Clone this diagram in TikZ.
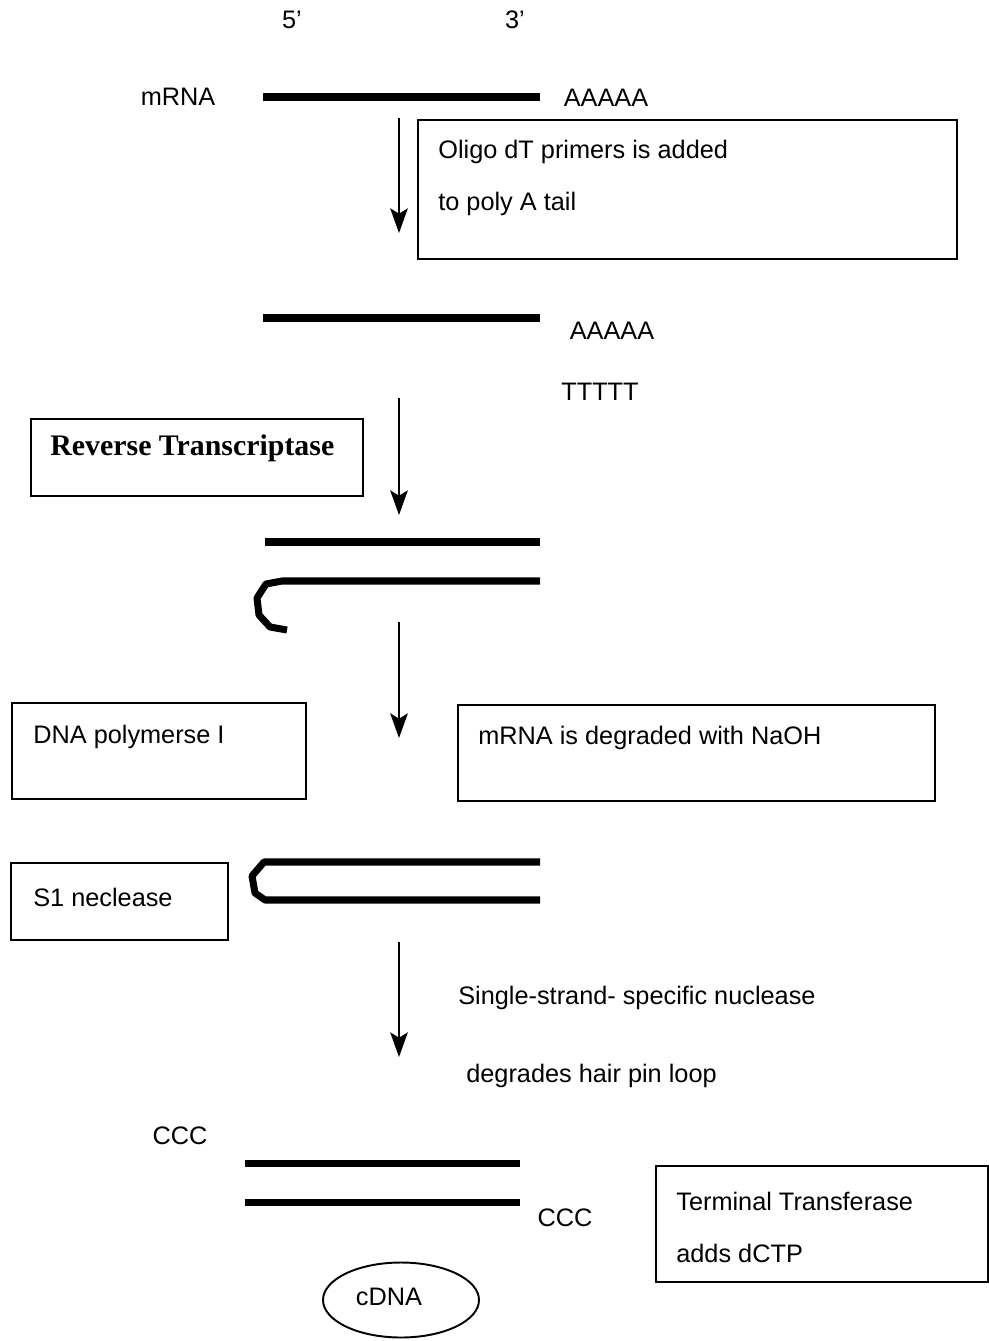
\documentclass[tikz,border=0pt]{standalone}
\usepackage{fontspec}
\setmainfont{Liberation Sans}
\newfontfamily\rtfont{Liberation Serif}
\usetikzlibrary{arrows.meta,shapes.geometric}
\tikzset{
  lbl/.style={inner sep=0pt, font=\fontsize{14.4}{17}\selectfont},
  lbll/.style={lbl, anchor=west},
  box/.style={draw, line width=1.1pt, anchor=north west, inner sep=0pt},
  strand/.style={line width=4pt},
  arr/.style={line width=1.2pt, -{Stealth[length=14pt,width=10pt,inset=3pt]}},
}
\begin{document}
\begin{tikzpicture}[x=0.02cm,y=-0.02cm]
\useasboundingbox (0,0) rectangle (989,1341);
% top labels
\node[lbl] (p5) at (292,20) {5’};
\node[lbl] (p3) at (515,20) {3’};
% step 1
\node[lbl] (mrna) at (178,97) {mRNA};
\coordinate (m1a) at (263,97); \coordinate (m1b) at (540,97);
\draw[strand] (m1a) -- (m1b);
\node[lbl] (polyA1) at (606,98) {AAAAA};
\coordinate (a1s) at (399,118); \coordinate (a1e) at (399,233);
\draw[arr] (a1s) -- (a1e);
\node[box, minimum width=10.78cm, minimum height=2.78cm] (b1) at (417,119) {};
\node[lbll] (t1a) at (438,152) {Oligo dT primers is added};
\node[lbll] (t1b) at (438,204) {to poly A tail};
% step 2
\coordinate (m2a) at (263,318); \coordinate (m2b) at (540,318);
\draw[strand] (m2a) -- (m2b);
\node[lbl] (polyA2) at (612,331) {AAAAA};
\node[lbl] (polyT) at (600,392) {TTTTT};
\node[box, minimum width=6.64cm, minimum height=1.54cm] (rt) at (30,418) {};
\node[lbll, font=\rtfont\bfseries\fontsize{17}{20}\selectfont] (rtt) at (50,448) {Reverse Transcriptase};
\coordinate (a2s) at (399,398); \coordinate (a2e) at (399,515);
\draw[arr] (a2s) -- (a2e);
% step 3
\coordinate (m3a) at (265,542); \coordinate (m3b) at (540,542);
\draw[strand] (m3a) -- (m3b);
\coordinate (c3a) at (540,581); \coordinate (c3b) at (282,581);
\coordinate (c3e) at (287,630);
\draw[strand, line join=round] (c3a) -- (c3b) -- (266,584) -- (257,598) -- (259,615) -- (270,627) -- (c3e);
\coordinate (a3s) at (399,622); \coordinate (a3e) at (399,738);
\draw[arr] (a3s) -- (a3e);
\node[box, minimum width=5.88cm, minimum height=1.92cm] (dp) at (11,702) {};
\node[lbll] (dpt) at (33,737) {DNA polymerse I};
\node[box, minimum width=9.54cm, minimum height=1.92cm] (deg) at (457,704) {};
\node[lbll] (degt) at (478,738) {mRNA is degraded with NaOH};
% step 4
\node[box, minimum width=4.34cm, minimum height=1.54cm] (s1) at (10,862) {};
\node[lbll] (s1t) at (33,897) {S1 neclease};
\coordinate (h1) at (540,862); \coordinate (h2) at (264,862);
\coordinate (h3) at (265,900); \coordinate (h4) at (540,900);
\draw[strand, line join=round] (h1) -- (h2) -- (252,876) -- (255,893) -- (h3) -- (h4);
\coordinate (a4s) at (399,942); \coordinate (a4e) at (399,1057);
\draw[arr] (a4s) -- (a4e);
\node[lbll] (ss1) at (458,998) {Single-strand- specific nuclease};
\node[lbll] (ss2) at (466,1076) {degrades hair pin loop};
% step 5
\node[lbl] (ccc1) at (180,1136) {CCC};
\coordinate (d1a) at (245,1163); \coordinate (d1b) at (520,1163);
\draw[strand] (d1a) -- (d1b);
\coordinate (d2a) at (245,1202); \coordinate (d2b) at (520,1202);
\draw[strand] (d2a) -- (d2b);
\node[lbl] (ccc2) at (565,1218) {CCC};
\node[box, minimum width=6.64cm, minimum height=2.32cm] (tt) at (655,1165) {};
\node[lbll] (tta) at (676,1201) {Terminal Transferase};
\node[lbll] (ttb) at (676,1253) {adds dCTP};
\node[draw, ellipse, line width=1.1pt, minimum width=3.12cm, minimum height=1.5cm, inner sep=0pt] (cdna) at (401,1300) {};
\node[lbl] (cdnat) at (389,1297) {cDNA};
\end{tikzpicture}
\end{document}
